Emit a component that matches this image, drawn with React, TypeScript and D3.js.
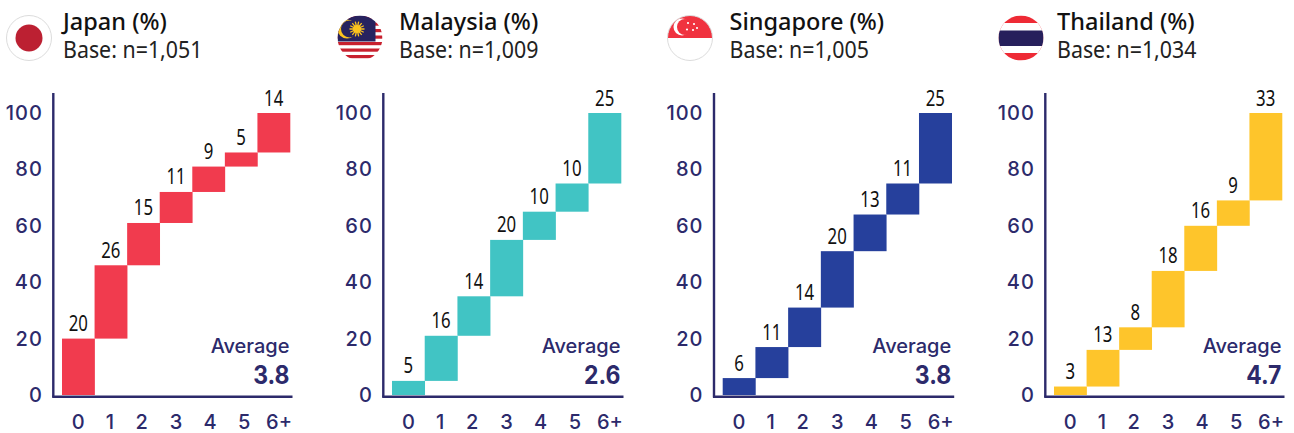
import React from "react";
import * as d3 from "d3";

const categories = ["0", "1", "2", "3", "4", "5", "6+"];
const yTicks = [0, 20, 40, 60, 80, 100];
const countries = ["Japan", "Malaysia", "Singapore", "Thailand"];
const bases = ["1,051", "1,009", "1,005", "1,034"];
const averages = ["3.8", "2.6", "3.8", "4.7"];
const colors = ["#f13b4e", "#41c4c4", "#26409c", "#fec52b"];
// printed labels
const japan = [20, 26, 15, 11, 9, 5, 14];
const malaysia = [5, 16, 14, 20, 10, 10, 25];
const singapore = [6, 11, 14, 20, 13, 11, 25];
const thailand = [3, 13, 8, 18, 16, 9, 33];
const labelsList = [japan, malaysia, singapore, thailand];
// drawn bar heights: Thailand's printed labels do not match its drawn steps
const thailandDrawn = [3, 13, 8, 20, 16, 9, 31];
const drawnList = [japan, malaysia, singapore, thailandDrawn];

const axisXs = [53.3, 383.3, 714, 1045.3];
const plotWidths = [228, 229, 229, 228];
const titleXs = [63, 399, 729.5, 1057];
const flagXs = [29, 360, 690, 1021];
// the reference's category labels drift right of their bars
const categoryNudge = [0, -1, -1.7, 0, 1.4, 3, 5.3];
const navy = "#2c2a6b";
const y = d3.scaleLinear().domain([0, 100]).range([395, 113]);
const axisFont = "Inter";

function Flag({ i, cx }: { i: number; cx: number }) {
  const r = 22.5;
  const cy = 38;
  const id = `clip${i}`;
  const L = cx - r;
  const T = cy - r;
  const W = 2 * r;
  return (
    <g>
      <defs>
        <clipPath id={id}>
          <circle cx={cx} cy={cy} r={r} />
        </clipPath>
      </defs>
      <g clipPath={`url(#${id})`}>
        {i === 0 && (
          <>
            <rect x={L} y={T} width={W} height={W} fill="#fff" />
            <circle cx={cx} cy={cy} r={13.5} fill="#bc2032" />
          </>
        )}
        {i === 1 && (
          <>
            <rect x={L} y={T} width={W} height={W} fill="#fff" />
            {[0, 1, 2, 3, 4, 5, 6].map((k) => (
              <rect key={k} x={L} y={T + 6.5 * k + 0.5} width={W} height={3.2} fill="#c8202e" />
            ))}
            <rect x={L} y={T} width={38} height={26} fill="#27235f" />
            <circle cx={cx - 13} cy={cy - 9} r={9.5} fill="#fcc31e" />
            <circle cx={cx - 10.5} cy={cy - 9} r={8.5} fill="#27235f" />
            {d3.range(14).map((k) => {
              const a = (k * Math.PI) / 7;
              const c = cx - 3;
              const d = cy - 9;
              return (
                <line key={k} x1={c} y1={d} x2={c + 7.5 * Math.cos(a)} y2={d + 7.5 * Math.sin(a)} stroke="#fcc31e" strokeWidth={1.3} />
              );
            })}
            <circle cx={cx - 3} cy={cy - 9} r={4} fill="#fcc31e" />
          </>
        )}
        {i === 2 && (
          <>
            <rect x={L} y={T} width={W} height={W} fill="#fff" />
            <rect x={L} y={T} width={W} height={r} fill="#f0323f" />
            <circle cx={cx - 8} cy={cy - 11} r={8.5} fill="#fff" />
            <circle cx={cx - 5} cy={cy - 11} r={8} fill="#f0323f" />
            {[[-2, -15], [4, -14], [-3, -8.5], [7, -10], [3, -8]].map(([dx, dy], k) => (
              <circle key={k} cx={cx + dx} cy={cy + dy} r={1.1} fill="#fff" />
            ))}
          </>
        )}
        {i === 3 && (
          <>
            <rect x={L} y={T} width={W} height={W} fill="#ee2a35" />
            <rect x={L} y={T + 7.5} width={W} height={30} fill="#fff" />
            <rect x={L} y={T + 15} width={W} height={15.5} fill="#27205c" />
          </>
        )}
      </g>
      <circle cx={cx} cy={cy} r={r} fill="none" stroke={i === 0 || i === 2 ? "#dcdcdc" : "none"} strokeWidth={1} />
    </g>
  );
}

function Panel({ idx }: { idx: number }) {
  const labels = labelsList[idx];
  const drawn = drawnList[idx];
  const ax = axisXs[idx];
  const left = ax + 8.7;
  const right = left + plotWidths[idx];
  const x = d3.scaleBand().domain(categories).range([left, right]).padding(0);
  const tops = d3.cumsum(drawn);
  return (
    <g>
      <Flag i={idx} cx={flagXs[idx]} />
      <text x={titleXs[idx]} y={30} fontFamily="'Noto Sans'" fontSize={23.5} fontWeight={500} fill="#111">
        {countries[idx]} (%)
      </text>
      <text
        transform={`translate(${titleXs[idx]} 58) scale(0.93 1)`}
        fontFamily="'Noto Sans'"
        fontSize={23}
        fill="#222"
      >
        Base: n={bases[idx]}
      </text>
      {drawn.map((v, i) => (
        <rect
          key={i}
          x={x(categories[i])}
          y={y(tops[i])}
          width={x.bandwidth() + 0.3}
          height={y(tops[i] - v) - y(tops[i])}
          fill={colors[idx]}
        />
      ))}
      {labels.map((v, i) => (
        <text
          key={i}
          transform={`translate(${x(categories[i])! + x.bandwidth() / 2} ${y(tops[i]) - 7.5}) scale(0.8 1)`}
          textAnchor="middle"
          fontFamily="'Noto Sans'"
          fontSize={21}
          fill="#111"
        >
          {v}
        </text>
      ))}
      <line x1={ax} x2={ax} y1={93} y2={397.5} stroke={navy} strokeWidth={2.4} />
      <line x1={ax - 1} x2={right + 2.5} y1={396.7} y2={396.7} stroke={navy} strokeWidth={2.4} />
      {yTicks.map((t) => (
        <text key={t} x={ax - 10.5} y={y(t) + 7} textAnchor="end" fontFamily={axisFont} fontWeight={500} fontSize={20} letterSpacing={1} fill={navy}>
          {t}
        </text>
      ))}
      {categories.map((c, i) => (
        <text key={c} x={x(c)! + x.bandwidth() / 2 + categoryNudge[i]} y={428.7} textAnchor="middle" fontFamily={axisFont} fontWeight={500} fontSize={20} fill={navy}>
          {c}
        </text>
      ))}
      <text x={right - 0.5} y={353.3} textAnchor="end" fontFamily={axisFont} fontWeight={500} fontSize={20} fill={navy}>
        Average
      </text>
      <text
        transform={`translate(${right - 0.5} 384.3) scale(0.92 1)`}
        textAnchor="end"
        fontFamily={axisFont}
        fontWeight={700}
        fontSize={25}
        fill={navy}
      >
        {averages[idx]}
      </text>
    </g>
  );
}

export default function App() {
  return (
    <svg width={1294} height={433} style={{ position: "absolute", left: 0, top: 0, background: "#fff" }}>
      {countries.map((_, i) => (
        <Panel key={i} idx={i} />
      ))}
    </svg>
  );
}
